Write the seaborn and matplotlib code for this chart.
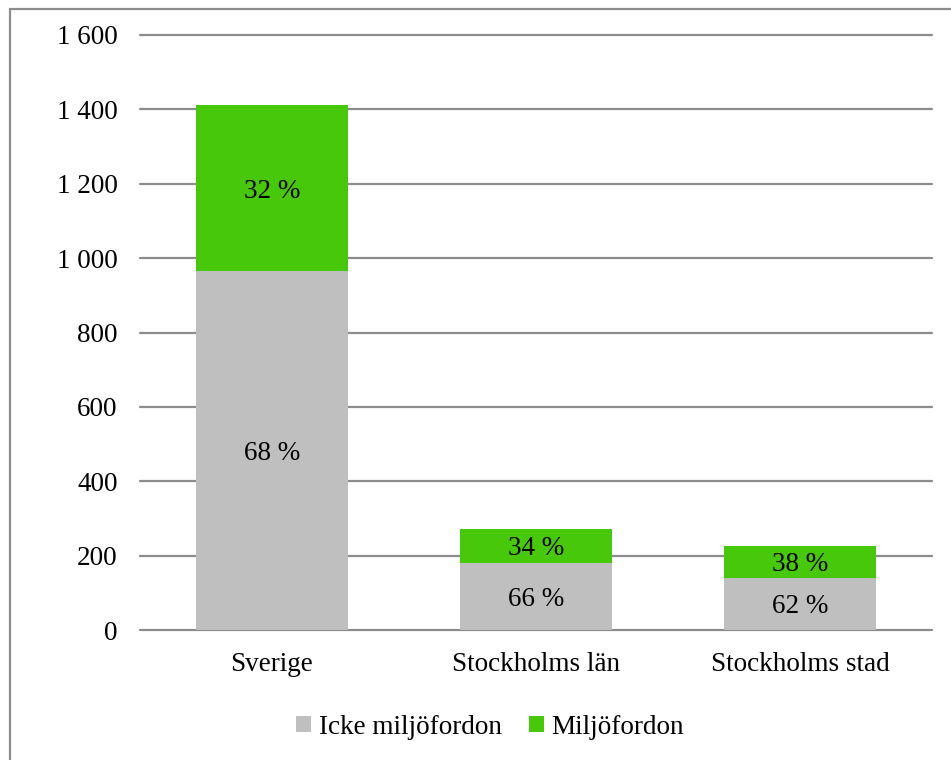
import matplotlib
matplotlib.use("Agg")
import matplotlib.pyplot as plt
from matplotlib.patches import Rectangle, Patch
import seaborn as sns
import pandas as pd

# Data: number of vehicles (thousands) per region, split by vehicle type
regions = ["Sverige", "Stockholms län", "Stockholms stad"]
icke_miljo = [965, 180, 140]
miljo = [447, 92, 86]
series_names = ["Icke miljöfordon", "Miljöfordon"]
yticks = [0, 200, 400, 600, 800, 1000, 1200, 1400, 1600]

GRAY = "#bfbfbf"
GREEN = "#48c80a"
LINE = "#8c8c8c"
FS = 19.5

sns.set_theme(style="white")
plt.rcParams["font.family"] = ["Liberation Serif", "DejaVu Serif"]
plt.rcParams["text.color"] = "black"

totals = [a + b for a, b in zip(icke_miljo, miljo)]
df = pd.DataFrame({"region": regions, "icke": icke_miljo, "miljo": miljo, "total": totals})

fig = plt.figure(figsize=(9.51, 7.6), dpi=100)
ax = fig.add_axes([140 / 951, 1 - 630 / 760, 792 / 951, 595 / 760])

# Stacked bars: full height in green, lower segment in gray on top of it
sns.barplot(data=df, x="region", y="total", color=GREEN, width=0.572,
            saturation=1, linewidth=0, ax=ax, zorder=3)
sns.barplot(data=df, x="region", y="icke", color=GRAY, width=0.572,
            saturation=1, linewidth=0, ax=ax, zorder=3)

ax.set_ylim(0, 1600)
ax.set_xlim(-0.5, 2.5)
ax.set_yticks(yticks)
ax.set_yticklabels([f"{v:,}".replace(",", " ") for v in yticks])
ax.set_xlabel("")
ax.set_ylabel("")
for y in yticks:
    ax.axhline(y, color=LINE, lw=1.6, zorder=1, clip_on=False)
for s in ax.spines.values():
    s.set_visible(False)
ax.tick_params(axis="both", length=0, labelsize=FS, colors="black")
ax.tick_params(axis="y", pad=16)
ax.tick_params(axis="x", pad=16)

# Percentage labels centred in each segment
for i, (a, b, t) in enumerate(zip(icke_miljo, miljo, totals)):
    ax.text(i, a / 2, f"{round(100 * a / t)} %", ha="center", va="center_baseline",
            fontsize=FS, color="black", zorder=4)
    ax.text(i, a + b / 2, f"{round(100 * b / t)} %", ha="center", va="center_baseline",
            fontsize=FS, color="black", zorder=4)

handles = [Patch(facecolor=GRAY, edgecolor="none"), Patch(facecolor=GREEN, edgecolor="none")]
fig.legend(handles, series_names, loc="center", bbox_to_anchor=(490 / 951, 1 - 727 / 760),
           ncol=2, frameon=False, fontsize=FS, handlelength=0.55, handleheight=0.55,
           handletextpad=0.3, columnspacing=1.0)

# Outer chart border
fig.patches.append(Rectangle((10 / 951, -0.1), 1.2, 1 - 9 / 760 + 0.1,
                             transform=fig.transFigure, fill=False,
                             edgecolor=LINE, lw=1.6))

fig.savefig("out.png", dpi=100, facecolor="white")
